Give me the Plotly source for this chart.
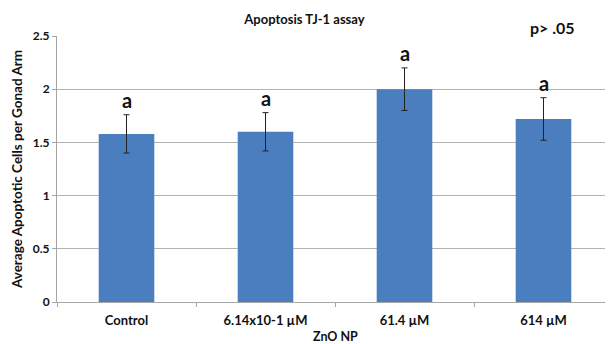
import plotly.graph_objects as go

categories = ["Control", "6.14x10-1 µM", "61.4 µM", "614 µM"]
means = [1.58, 1.60, 2.00, 1.72]
errors = [0.18, 0.18, 0.20, 0.20]
letters = ["a", "a", "a", "a"]
y_ticks = [0, 0.5, 1, 1.5, 2, 2.5]

FONT = "Lato"

fig = go.Figure()
fig.add_trace(go.Bar(
    x=categories, y=means, width=0.4,
    marker=dict(color="#4a7ebf", line=dict(width=0)),
    error_y=dict(type="data", array=errors, visible=True, color="#222222", thickness=1, width=3),
))

for c, m, e, l in zip(categories, means, errors, letters):
    fig.add_annotation(x=c, y=m + e, text="<b>%s</b>" % l, showarrow=False,
                       yanchor="bottom", yshift=1,
                       font=dict(family=FONT, size=20, color="#111111"))

fig.add_annotation(xref="paper", yref="paper", x=0.892, y=1.0, xanchor="center", text="<b>p> .05</b>",
                   showarrow=False, yanchor="bottom", yshift=-3,
                   font=dict(family=FONT, size=16, color="#111111"))

# x-axis title placed below tick labels
fig.add_annotation(xref="paper", yref="paper", x=0.5, y=0, text="<b>ZnO NP</b>",
                   showarrow=False, yanchor="middle", yshift=-34,
                   font=dict(family=FONT, size=12.5, color="#111111"))

fig.update_layout(
    width=605, height=336,
    margin=dict(l=49, r=0, t=28, b=42),
    paper_bgcolor="white", plot_bgcolor="white",
    showlegend=False,
    title=dict(text="<b>Apoptosis TJ-1 assay</b>", x=0.49, xanchor="center", y=0.967, yanchor="middle",
               font=dict(family=FONT, size=13, color="#111111")),
    font=dict(family=FONT, color="#111111"),
)
fig.update_xaxes(
    showline=True, linecolor="#a6a6a6", linewidth=1,
    ticks="outside", tickson="boundaries", ticklen=4, tickcolor="#a6a6a6",
    tickfont=dict(family=FONT, size=13, color="#111111"),
    tickprefix="<b>", ticksuffix="</b>", ticklabelstandoff=6,
)
fig.update_yaxes(
    range=[0, 2.5], tickvals=y_ticks, ticktext=["<b>%g</b>" % v for v in y_ticks],
    showgrid=True, gridcolor="#b3b3b3", gridwidth=1,
    showline=True, linecolor="#a6a6a6", linewidth=1,
    ticks="outside", ticklen=4, tickcolor="#a6a6a6",
    tickfont=dict(family=FONT, size=12, color="#111111"),
    zeroline=False,
    title=dict(text="<b>Average Apoptotic Cells per Gonad Arm</b>",
               font=dict(family=FONT, size=13.5, color="#111111"), standoff=7),
)

fig.write_html("out.html")
